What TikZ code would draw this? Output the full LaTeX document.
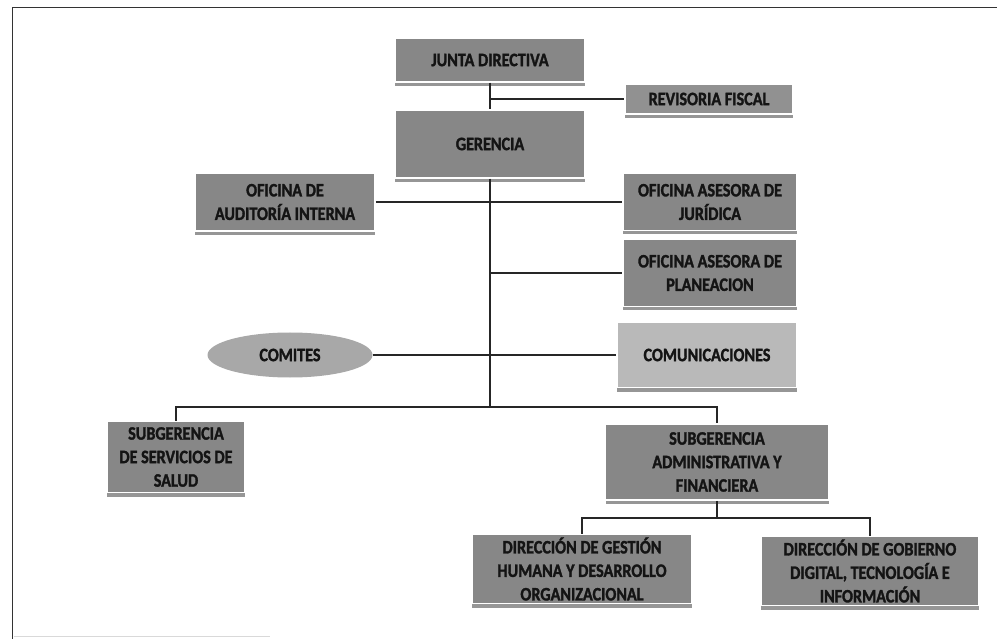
\documentclass[tikz,border=0pt]{standalone}
\usepackage{fontspec}
\setmainfont{Carlito}[FakeStretch=0.85, BoldFeatures={FakeBold=1.6}]
\usetikzlibrary{shapes.geometric,shadows}
\definecolor{boxgray}{RGB}{135,135,135}
\definecolor{lightbox}{RGB}{185,185,185}
\definecolor{ellgray}{RGB}{168,168,168}
\definecolor{txt}{RGB}{20,20,20}
\definecolor{shadowgray}{RGB}{150,150,150}
\begin{document}
\begin{tikzpicture}[x=1pt,y=-1pt,
  orgbox/.style={rectangle, fill=boxgray, draw=white, line width=1.5pt, align=center,
    font=\fontsize{19}{23.5}\selectfont\bfseries, text=txt, inner sep=0pt,
    drop shadow={shadow xshift=0pt, shadow yshift=-4pt, fill=shadowgray, opacity=1}},
  lightorg/.style={orgbox, fill=lightbox},
  ellnode/.style={ellipse, fill=ellgray, draw=none, align=center,
    font=\fontsize{19}{23.5}\selectfont\bfseries, text=txt, inner sep=0pt},
  link/.style={draw=black!85, line width=1.6pt},
  frameline/.style={draw=black!80, line width=1pt}]
\fill[white] (0,0) rectangle (997,639);
\useasboundingbox (0,0) rectangle (997,639);
% frame
\coordinate (ftl) at (12,8);
\coordinate (ftr) at (997,8);
\coordinate (fbl) at (12,639);
\coordinate (fbr) at (270,636);
\draw[frameline] (fbl) -- (ftl) -- (ftr);
\draw[black!15, line width=0.6pt] (14,636) -- (fbr);
% nodes
\node[orgbox, minimum width=190, minimum height=44] (junta) at (490,60) {JUNTA DIRECTIVA};
\node[lightorg, fill=boxgray!80!lightbox, minimum width=168, minimum height=30] (revisoria) at (709,99) {REVISORIA FISCAL};
\node[orgbox, minimum width=190, minimum height=68] (gerencia) at (490,144) {GERENCIA};
\node[orgbox, minimum width=180, minimum height=58] (auditoria) at (285,202) {OFICINA DE\\AUDITORÍA INTERNA};
\node[orgbox, minimum width=174, minimum height=57] (juridica) at (710,202) {OFICINA ASESORA DE\\JURÍDICA};
\node[orgbox, minimum width=174, minimum height=67] (planeacion) at (710,273) {OFICINA ASESORA DE\\PLANEACION};
\node[lightorg, minimum width=180, minimum height=65] (comunicaciones) at (707,355) {COMUNICACIONES};
\node[ellnode, minimum width=165, minimum height=45] (comites) at (290,355) {COMITES};
\node[orgbox, minimum width=138, minimum height=71] (salud) at (176,457) {SUBGERENCIA\\DE SERVICIOS DE\\SALUD};
\node[orgbox, minimum width=223, minimum height=76] (admin) at (717,462) {SUBGERENCIA\\ADMINISTRATIVA Y\\FINANCIERA};
\node[orgbox, minimum width=220, minimum height=69] (gestion) at (582,569) {DIRECCIÓN DE GESTIÓN\\HUMANA Y DESARROLLO\\ORGANIZACIONAL};
\node[orgbox, minimum width=218, minimum height=69] (gobierno) at (870,571) {DIRECCIÓN DE GOBIERNO\\DIGITAL, TECNOLOGÍA E\\INFORMACIÓN};
% junction coordinates
\coordinate (br) at (gerencia.south |- 0,407);
\coordinate (br2) at (admin.south |- 0,518);
% connectors
\draw[link] (junta.south) -- (gerencia.north);
\draw[link] (junta.south |- revisoria.west) -- (revisoria.west);
\draw[link] (gerencia.south) -- (br);
\draw[link] (auditoria.east) -- (juridica.west);
\draw[link] (gerencia.south |- planeacion.west) -- (planeacion.west);
\draw[link] (comites.east) -- (comunicaciones.west);
\draw[link] (salud.north) |- (br) -| (admin.north);
\draw[link] (admin.south) -- (br2);
\draw[link] (gestion.north) |- (br2) -| (gobierno.north);
\end{tikzpicture}
\end{document}
